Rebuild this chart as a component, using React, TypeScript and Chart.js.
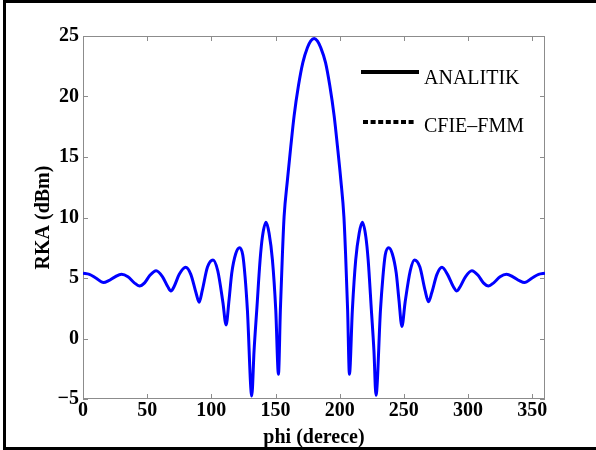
import React, { useEffect, useRef } from "react";
import { Chart, registerables } from "chart.js";

Chart.register(...registerables);

const phiDeg = [
  0, 5, 10, 16, 20, 25, 30, 35, 40, 44, 48, 52, 57, 62, 66, 68.5, 71, 75, 80, 84,
  88, 90.5, 93, 97, 101.3, 105, 109, 111.5, 113.8, 115.9, 119, 122, 124.5, 126.3,
  128.1, 131.5, 133.3, 135.4, 138, 139.8, 142.6, 145, 147.6, 150.2, 152.3, 153.8,
  155.4, 156.7, 159.3, 161.9, 164.5, 167.9, 171.3, 174.9, 177.5, 180.1, 182.6, 185.2,
  189, 192.3, 195.7, 198.3, 200.9, 203.3, 204.6, 206.2, 207.6, 209.9, 212.5, 215.2,
  217.7, 220.4, 222.2, 224.7, 226.7, 228.3, 231.8, 233.7, 235.5, 238.2, 241, 244.1,
  246.2, 248.5, 251, 255, 258.3, 262.5, 266.5, 269.2, 271.8, 275.8, 279.7, 284,
  288.5, 291.3, 294, 298, 303, 308, 312, 316, 320, 325, 330, 335, 340, 344, 350, 355,
  360,
];

const rkaAnalitik = [
  5.39, 5.3, 5.0, 4.62, 4.78, 5.1, 5.3, 5.1, 4.6, 4.34, 4.6, 5.2, 5.6, 5.1, 4.3, 3.93,
  4.3, 5.3, 5.88, 5.3, 3.8, 3.0, 4.0, 5.9, 6.49, 5.6, 3.0, 1.12, 3.18, 5.39, 7.0, 7.5,
  6.9, 5.1, 2.36, -4.75, -1.0, 2.36, 6.49, 8.4, 9.6, 8.7, 6.49, 2.36, -2.95, 2.36, 7.0,
  10.07, 13.1, 15.85, 18.4, 20.9, 22.8, 24.05, 24.6, 24.8, 24.6, 24.05, 22.8, 20.9,
  18.4, 15.85, 13.1, 10.07, 7.0, 2.36, -2.95, 2.36, 6.49, 8.7, 9.6, 8.4, 6.49, 2.36,
  -1.0, -4.7, 2.36, 5.1, 6.9, 7.5, 7.0, 5.39, 3.18, 1.0, 3.0, 5.6, 6.49, 5.9, 4.0,
  3.04, 3.8, 5.3, 5.88, 5.3, 4.3, 3.93, 4.3, 5.1, 5.6, 5.2, 4.6, 4.34, 4.6, 5.1, 5.3,
  5.1, 4.78, 4.62, 5.0, 5.3, 5.39,
];

const xTicks = [0, 50, 100, 150, 200, 250, 300, 350];
const yTicks = [-5, 0, 5, 10, 15, 20, 25];
const legendLabels = ["ANALITIK", "CFIE\u2013FMM"];

const SERIF = "'Liberation Serif', 'Times New Roman', serif";

const boxPlugin = {
  id: "boxPlugin",
  beforeDatasetsDraw(chart: any) {
    const { ctx, chartArea: a, scales } = chart;
    const xs = scales.x;
    const ys = scales.y;
    ctx.save();
    ctx.strokeStyle = "#8c8c8c";
    ctx.lineWidth = 1;
    ctx.strokeRect(a.left + 0.5, a.top + 0.5, a.right - a.left - 1, a.bottom - a.top - 1);
    const tl = 5;
    ctx.beginPath();
    xTicks.forEach((v) => {
      const px = Math.round(xs.getPixelForValue(v)) + 0.5;
      ctx.moveTo(px, a.bottom);
      ctx.lineTo(px, a.bottom - tl);
      ctx.moveTo(px, a.top);
      ctx.lineTo(px, a.top + tl);
    });
    yTicks.forEach((v) => {
      const py = Math.round(ys.getPixelForValue(v)) + 0.5;
      ctx.moveTo(a.left, py);
      ctx.lineTo(a.left + tl, py);
      ctx.moveTo(a.right, py);
      ctx.lineTo(a.right - tl, py);
    });
    ctx.stroke();
    ctx.restore();
  },
  afterDraw(chart: any) {
    const { ctx } = chart;
    ctx.save();
    ctx.strokeStyle = "#000";
    ctx.lineWidth = 4;
    ctx.beginPath();
    ctx.moveTo(361, 72);
    ctx.lineTo(419, 72);
    ctx.stroke();
    ctx.setLineDash([5, 2.6]);
    ctx.beginPath();
    ctx.moveTo(363, 122);
    ctx.lineTo(414, 122);
    ctx.stroke();
    ctx.setLineDash([]);
    ctx.fillStyle = "#000";
    ctx.font = `20px ${SERIF}`;
    ctx.textBaseline = "alphabetic";
    ctx.textAlign = "left";
    ctx.fillText(legendLabels[0], 424, 84);
    ctx.fillText(legendLabels[1], 424, 132);
    ctx.restore();
  },
};

export default function App() {
  const ref = useRef<HTMLCanvasElement | null>(null);

  useEffect(() => {
    if (!ref.current) return;
    const data = phiDeg.map((x, i) => ({ x, y: rkaAnalitik[i] }));
    const tickFont = { family: SERIF, size: 20, weight: "bold" as const };
    const chart = new Chart(ref.current, {
      type: "line",
      data: {
        datasets: [
          {
            label: legendLabels[0],
            data,
            borderColor: "#0000ff",
            borderWidth: 3,
            pointRadius: 0,
            cubicInterpolationMode: "monotone",
            fill: false,
          },
        ],
      },
      options: {
        animation: false,
        responsive: false,
        maintainAspectRatio: false,
        devicePixelRatio: 1,
        layout: { padding: { top: 36, right: 51, left: 0, bottom: 0 } },
        plugins: { legend: { display: false }, tooltip: { enabled: false } },
        scales: {
          x: {
            type: "linear",
            min: 0,
            max: 360,
            grid: { display: false, drawTicks: false },
            border: { display: false },
            afterBuildTicks: (s: any) => {
              s.ticks = xTicks.map((v) => ({ value: v }));
            },
            afterFit: (s: any) => {
              s.height = 51;
            },
            ticks: {
              color: "#000",
              font: tickFont,
              padding: 0,
              maxRotation: 0,
              autoSkip: false,
              callback: (v: any) => String(v),
            },
            title: {
              display: true,
              text: "phi (derece)",
              color: "#000",
              font: { family: SERIF, size: 20, weight: "bold" },
              padding: { top: 0, bottom: 0 },
            },
          },
          y: {
            type: "linear",
            min: -5,
            max: 25,
            grid: { display: false, drawTicks: false },
            border: { display: false },
            afterBuildTicks: (s: any) => {
              s.ticks = yTicks.map((v) => ({ value: v }));
            },
            afterFit: (s: any) => {
              s.width = 83;
            },
            ticks: {
              color: "#000",
              font: tickFont,
              padding: 4,
              autoSkip: false,
              callback: (v: any) => (v < 0 ? "\u2212" + Math.abs(v) : String(v)),
            },
            title: {
              display: true,
              text: "RKA (dBm)",
              color: "#000",
              font: { family: SERIF, size: 20, weight: "bold" },
              padding: { top: 32, bottom: 0 },
            },
          },
        },
      },
      plugins: [boxPlugin],
    });
    return () => chart.destroy();
  }, []);

  return (
    <div style={{ position: "fixed", left: 0, top: 0, width: 596, height: 450, background: "#fff", overflow: "hidden" }}>
      <canvas ref={ref} width={596} height={450} style={{ position: "absolute", left: 0, top: 0, width: 596, height: 450 }} />
      <div
        style={{
          position: "absolute",
          left: 3,
          top: 0,
          width: 610,
          height: 450,
          border: "3px solid #000",
          boxSizing: "border-box",
          pointerEvents: "none",
        }}
      />
    </div>
  );
}
